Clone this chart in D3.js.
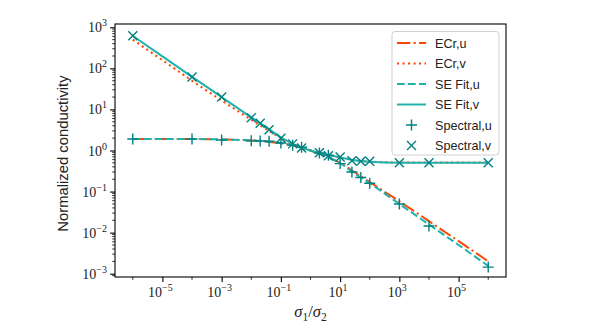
<!DOCTYPE html>
<html>
<head>
<meta charset="utf-8">
<script src="https://cdn.jsdelivr.net/npm/d3@7"></script>
<style>
  body { margin: 0; background: #fff; }
  svg { display: block; }
</style>
</head>
<body>
<svg id="chart" width="602" height="325"></svg>
<script>
// ratio grid for the model curves
const sGrid = [1e-6, 1e-5, 1e-4, 1e-3, 1e-2, 3e-2, 0.1, 0.3, 1, 3, 10, 30, 100, 1e3, 1e4, 1e5, 1e6];
const ecrU = [1.9, 1.9, 1.9, 1.86, 1.76, 1.66, 1.5, 1.3, 1.0, 0.74, 0.5, 0.3, 0.17, 0.058, 0.019, 0.0062, 0.002];
const ecrV = [500, 158, 50, 16.5, 5.6, 3.4, 2.0, 1.32, 1.0, 0.8, 0.68, 0.58, 0.54, 0.51, 0.51, 0.51, 0.51];
const seU = [1.9, 1.9, 1.9, 1.86, 1.76, 1.66, 1.5, 1.3, 1.0, 0.74, 0.49, 0.28, 0.16, 0.05, 0.0158, 0.005, 0.00155];
const seV = [620, 196, 62, 20, 6.4, 3.8, 2.1, 1.36, 1.0, 0.8, 0.68, 0.58, 0.53, 0.5, 0.5, 0.5, 0.5];

// spectral samples
const sSpec = [1e-6, 1e-4, 1e-3, 1e-2, 2e-2, 4e-2, 0.1, 0.25, 0.5, 2, 4, 10, 25, 50, 100, 1e3, 1e4, 1e6];
const specU = [1.9, 1.9, 1.8, 1.72, 1.7, 1.68, 1.52, 1.35, 1.2, 0.87, 0.77, 0.48, 0.30, 0.22, 0.16, 0.05, 0.0145, 0.00145];
const specV = [620, 62, 20, 6.3, 4.6, 3.2, 2.0, 1.45, 1.15, 0.88, 0.75, 0.69, 0.56, 0.55, 0.55, 0.5, 0.5, 0.5];

const xTickExp = [-5, -3, -1, 1, 3, 5];
const yTickExp = [-3, -2, -1, 0, 1, 2, 3];

const orange = "#ff4500", sea = "#20b2aa", mark = "#008080";
const serif = "'Liberation Serif', 'DejaVu Serif', serif";
const sans = "'Liberation Sans', Arial, sans-serif";

const W = 602, H = 325;
const m = { left: 115, right: 96, top: 24, bottom: 48 };

const svg = d3.select("#chart");

const x = d3.scaleLog().domain([Math.pow(10, -6.6), Math.pow(10, 6.6)]).range([m.left, W - m.right]);
const y = d3.scaleLog().domain([Math.pow(10, -3.08), Math.pow(10, 3.08)]).range([H - m.bottom, m.top]);

svg.append("defs").append("clipPath").attr("id", "clip")
  .append("rect")
  .attr("x", m.left).attr("y", m.top)
  .attr("width", W - m.left - m.right).attr("height", H - m.top - m.bottom);

// Axes
const xAxis = d3.axisBottom(x).tickValues(xTickExp.map(e => Math.pow(10, e))).tickSize(4.9).tickFormat("");
const yAxis = d3.axisLeft(y).tickValues(yTickExp.map(e => Math.pow(10, e))).tickSize(4.9).tickFormat("");

// minor ticks on y (2..9 each decade)
const yMinor = [];
for (let e = -4; e <= 3; e++) for (let k = 2; k <= 9; k++) {
  const v = k * Math.pow(10, e);
  if (v >= y.domain()[0] && v <= y.domain()[1]) yMinor.push(v);
}
// minor ticks on x at the skipped decades
const xMinor = [-6, -4, -2, 0, 2, 4, 6].map(e => Math.pow(10, e));

const gx = svg.append("g").attr("transform", `translate(0,${H - m.bottom})`).call(xAxis);
const gy = svg.append("g").attr("transform", `translate(${m.left},0)`).call(yAxis);
[gx, gy].forEach(g => {
  g.select(".domain").remove();
  g.selectAll("line").attr("stroke", "#000").attr("stroke-width", 1.1);
});

svg.append("g").selectAll("line").data(yMinor).join("line")
  .attr("x1", m.left - 2.8).attr("x2", m.left)
  .attr("y1", d => y(d)).attr("y2", d => y(d))
  .attr("stroke", "#000").attr("stroke-width", 0.8);
svg.append("g").selectAll("line").data(xMinor).join("line")
  .attr("x1", d => x(d)).attr("x2", d => x(d))
  .attr("y1", H - m.bottom).attr("y2", H - m.bottom + 2.8)
  .attr("stroke", "#000").attr("stroke-width", 0.8);

// tick labels as 10^e
function powLabel(sel, e) {
  sel.append("tspan").text("10");
  sel.append("tspan").attr("dy", -6).attr("font-size", "10px")
    .text(e < 0 ? "\u2212" + Math.abs(e) : String(e));
}
xTickExp.forEach(e => {
  const t = svg.append("text")
    .attr("x", x(Math.pow(10, e)) - 2).attr("y", H - m.bottom + 20)
    .attr("text-anchor", "middle")
    .attr("font-family", serif).attr("font-size", "14px").attr("fill", "#222");
  powLabel(t, e);
});
yTickExp.forEach(e => {
  const t = svg.append("text")
    .attr("x", m.left - 8).attr("y", y(Math.pow(10, e)) + 5)
    .attr("text-anchor", "end")
    .attr("font-family", serif).attr("font-size", "14px").attr("fill", "#222");
  powLabel(t, e);
});

// axis labels
const xl = svg.append("text")
  .attr("x", (m.left + W - m.right) / 2).attr("y", 317)
  .attr("text-anchor", "middle")
  .attr("font-family", serif).attr("font-size", "16.5px").attr("fill", "#222");
xl.append("tspan").attr("font-style", "italic").text("\u03c3");
xl.append("tspan").attr("dy", 4).attr("font-size", "11.5px").text("1");
xl.append("tspan").attr("dy", -4).text("/");
xl.append("tspan").attr("font-style", "italic").text("\u03c3");
xl.append("tspan").attr("dy", 4).attr("font-size", "11.5px").text("2");

svg.append("text")
  .attr("transform", `translate(68,${(m.top + H - m.bottom) / 2 + 3}) rotate(-90)`)
  .attr("text-anchor", "middle")
  .attr("font-family", sans).attr("font-size", "14.8px").attr("fill", "#222")
  .text("Normalized conductivity");

// curves
const plot = svg.append("g").attr("clip-path", "url(#clip)");
const line = d3.line().x(d => x(d[0])).y(d => y(d[1])).curve(d3.curveMonotoneX);
const series = [
  { vals: ecrU, color: orange, dash: "13.3,3.3,2.1,3.3", name: "ECr,u" },
  { vals: ecrV, color: orange, dash: "2.1,3.4", name: "ECr,v" },
  { vals: seU, color: sea, dash: "7.7,3.3", name: "SE Fit,u" },
  { vals: seV, color: sea, dash: null, name: "SE Fit,v" }
];
series.forEach(s => {
  plot.append("path")
    .datum(sGrid.map((v, i) => [v, s.vals[i]]))
    .attr("d", line)
    .attr("fill", "none")
    .attr("stroke", s.color)
    .attr("stroke-width", 2)
    .attr("stroke-dasharray", s.dash);
});

// markers
const plusPath = r => `M${-r},0H${r}M0,${-r}V${r}`;
const crossPath = r => `M${-r},${-r}L${r},${r}M${-r},${r}L${r},${-r}`;
plot.append("g").selectAll("path").data(sSpec.map((v, i) => [v, specU[i]])).join("path")
  .attr("transform", d => `translate(${x(d[0])},${y(d[1])})`)
  .attr("d", plusPath(5.5)).attr("stroke", mark).attr("stroke-width", 1.4).attr("fill", "none");
plot.append("g").selectAll("path").data(sSpec.map((v, i) => [v, specV[i]])).join("path")
  .attr("transform", d => `translate(${x(d[0])},${y(d[1])})`)
  .attr("d", crossPath(4.5)).attr("stroke", mark).attr("stroke-width", 1.4).attr("fill", "none");

// frame
svg.append("rect")
  .attr("x", m.left).attr("y", m.top)
  .attr("width", W - m.left - m.right).attr("height", H - m.top - m.bottom)
  .attr("fill", "none").attr("stroke", "#000").attr("stroke-width", 1.1);

// legend
const lg = svg.append("g");
lg.append("rect")
  .attr("x", 392).attr("y", 31.5).attr("width", 107).attr("height", 123.5).attr("rx", 3)
  .attr("fill", "#fff").attr("fill-opacity", 0.8).attr("stroke", "#d0d0d0").attr("stroke-width", 1);
const rows = series.map(s => ({ type: "line", ...s }))
  .concat([{ type: "plus", name: "Spectral,u" }, { type: "cross", name: "Spectral,v" }]);
rows.forEach((r, i) => {
  const cy = 43 + i * 20.5;
  if (r.type === "line") {
    lg.append("line").attr("x1", 397).attr("x2", 426).attr("y1", cy).attr("y2", cy)
      .attr("stroke", r.color).attr("stroke-width", 2).attr("stroke-dasharray", r.dash);
  } else {
    lg.append("path").attr("transform", `translate(411.5,${cy})`)
      .attr("d", r.type === "plus" ? plusPath(5.5) : crossPath(4.5))
      .attr("stroke", mark).attr("stroke-width", 1.4).attr("fill", "none");
  }
  lg.append("text").attr("x", 435).attr("y", cy + 4.5)
    .attr("font-family", sans).attr("font-size", "12.6px").attr("fill", "#222")
    .text(r.name);
});
</script>
</body>
</html>
